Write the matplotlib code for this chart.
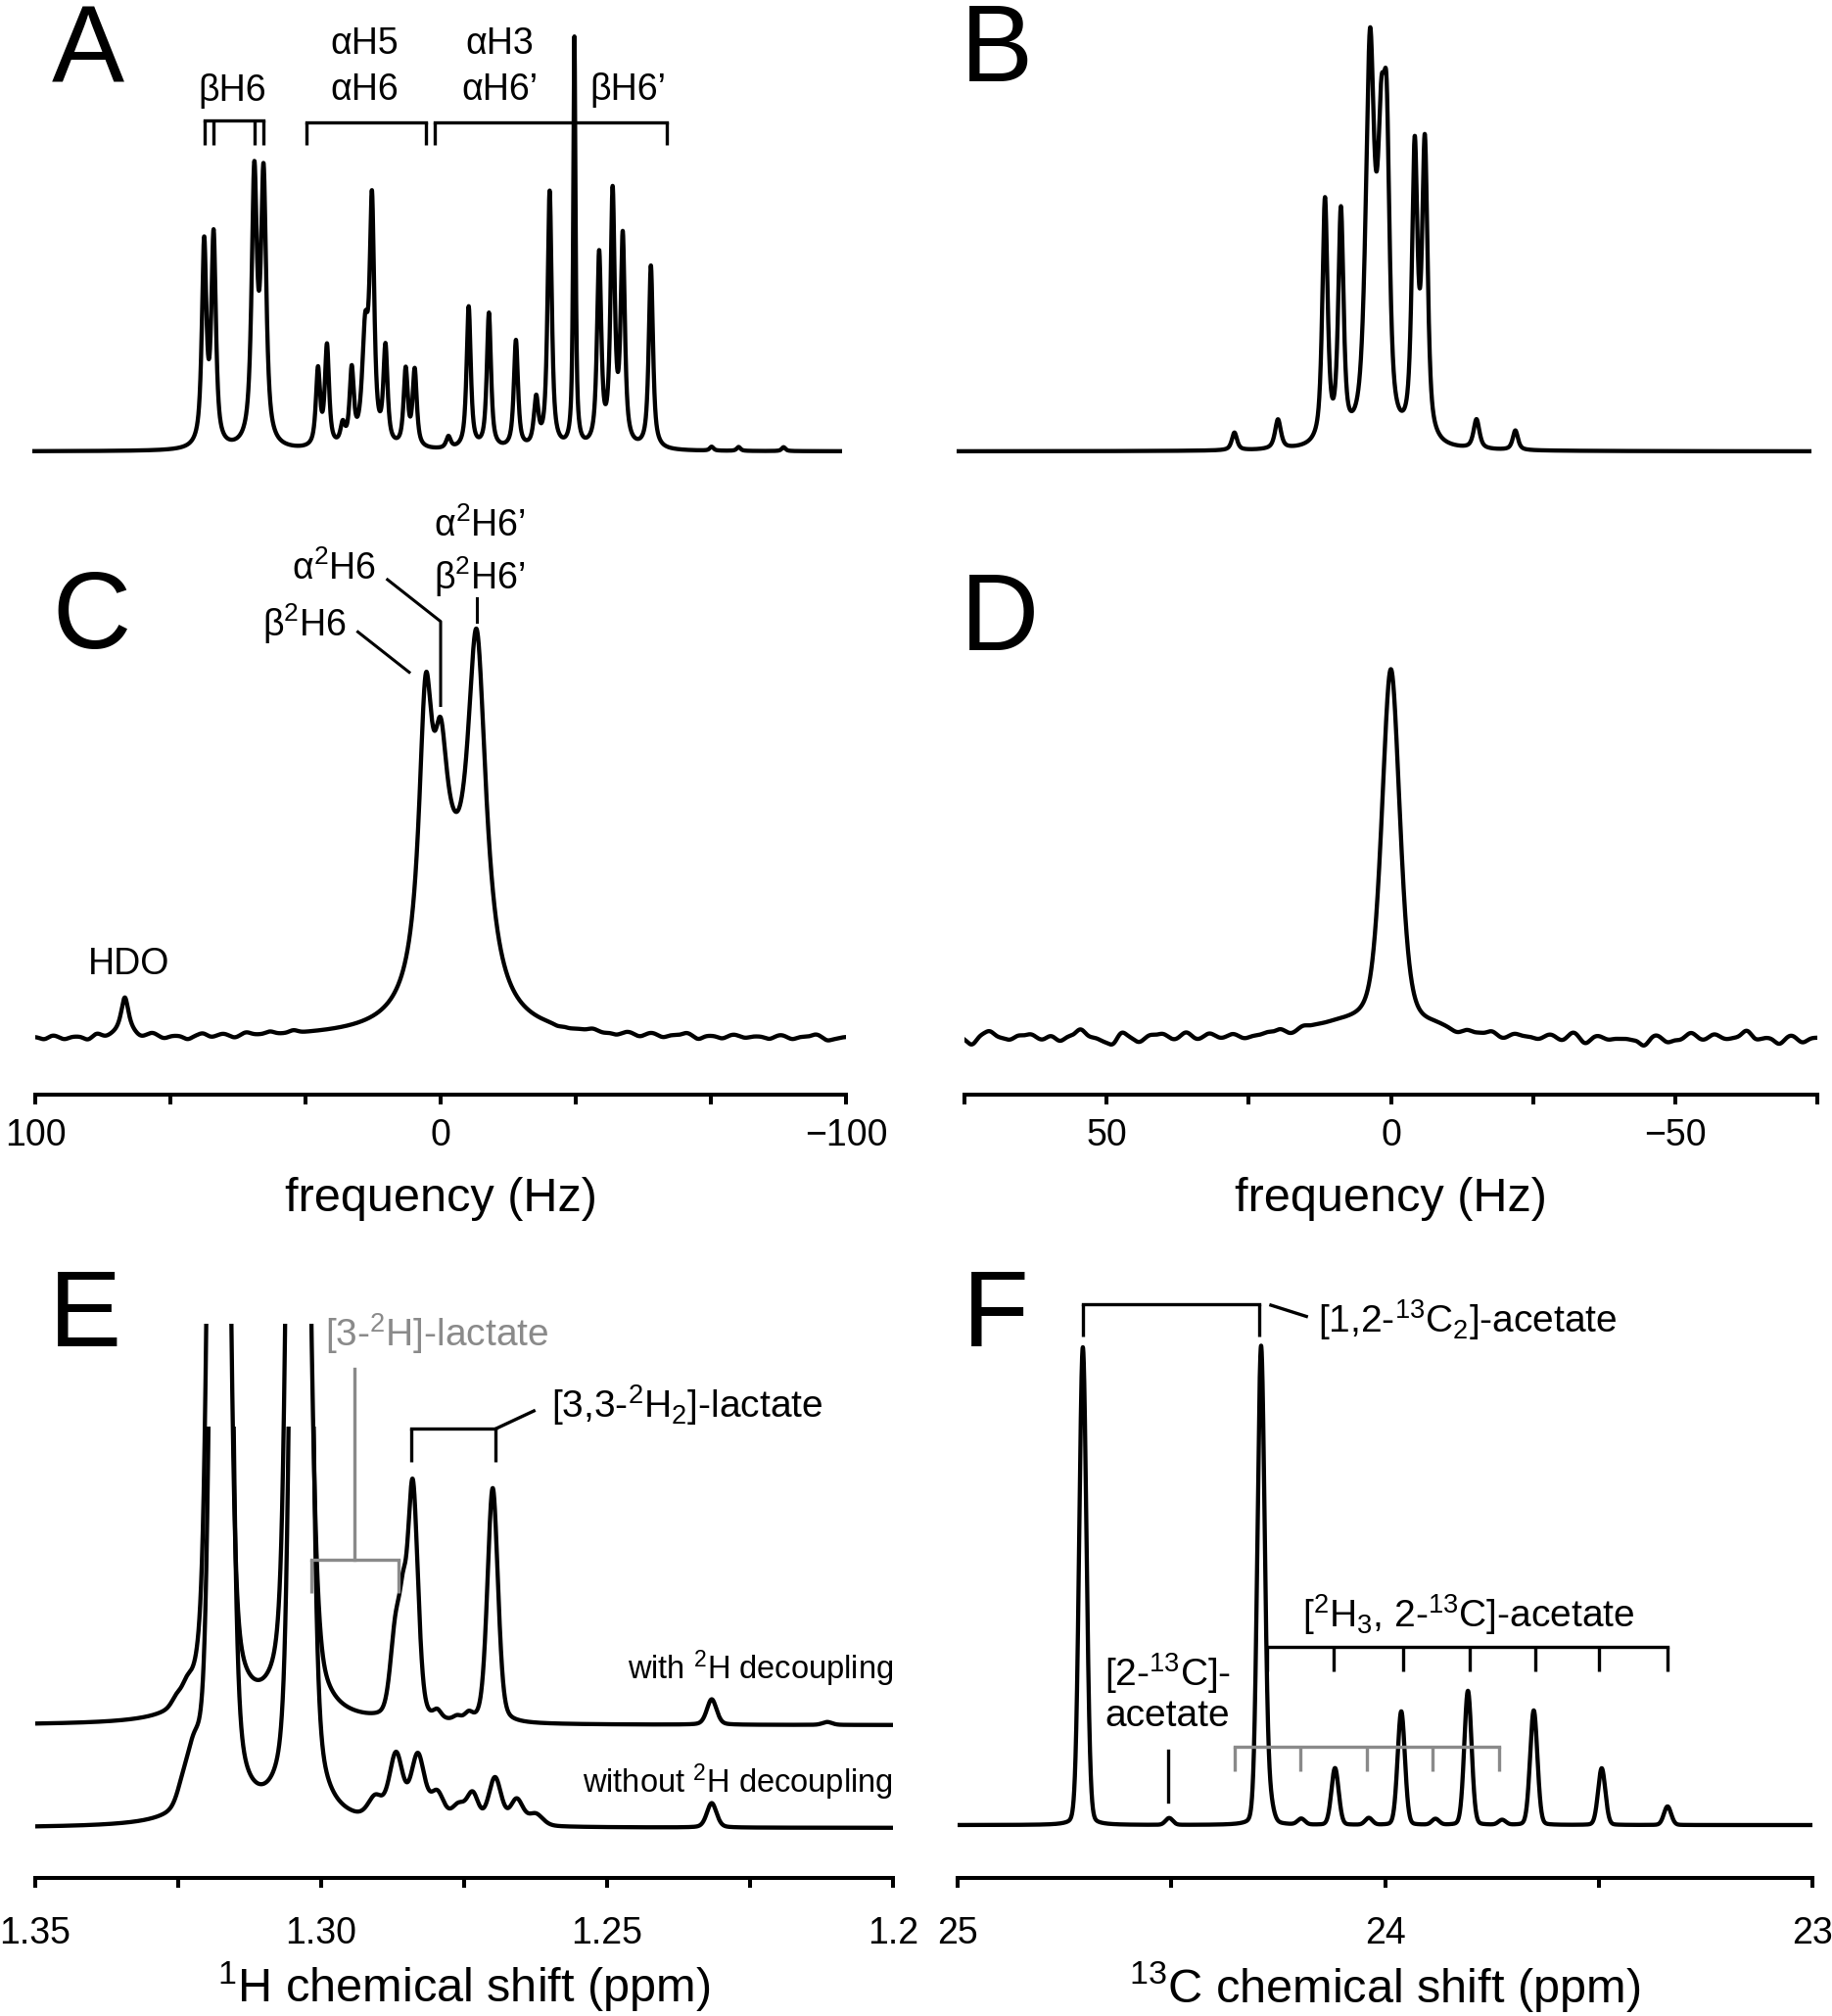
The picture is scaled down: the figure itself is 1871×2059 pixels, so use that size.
import numpy as np
import matplotlib.pyplot as plt
from matplotlib.patches import Rectangle

plt.rcParams['font.family'] = ['Liberation Sans', 'DejaVu Sans']
plt.rcParams['mathtext.fontset'] = 'custom'
plt.rcParams['mathtext.rm'] = 'Liberation Sans'
plt.rcParams['mathtext.it'] = 'Liberation Sans:italic'
plt.rcParams['mathtext.bf'] = 'Liberation Sans:bold'
plt.rcParams['mathtext.default'] = 'regular'

W, H = 1871, 2059
GRAY = '#8a8a8a'

# ---------------- data ----------------
# A: 1H spectrum, H6 region (ppm), intensity in a.u.
a_pos = [3.9036, 3.8994, 3.8813, 3.8772, 3.8530, 3.8490, 3.8420, 3.8380, 3.8320,
         3.8290, 3.8230, 3.8140, 3.8100, 3.7950, 3.7860, 3.7770, 3.7650, 3.7560,
         3.7500, 3.7390, 3.7280, 3.7220, 3.7175, 3.7050, 3.6780, 3.6660, 3.6460]
a_height = [205, 212, 272, 270, 78, 102, 20, 75, 110, 240, 98, 78, 78, 12, 145,
            138, 110, 48, 262, 418, 195, 255, 210, 187, 4, 4, 4]
a_width = [0.0012, 0.0012, 0.0014, 0.0014, 0.0011, 0.0011, 0.0012, 0.0011, 0.0016,
           0.0012, 0.0011, 0.0011, 0.0011, 0.0012, 0.0011, 0.0011, 0.0011, 0.0012,
           0.0011, 0.0006, 0.0011, 0.0011, 0.0011, 0.0011, 0.0010, 0.0010, 0.0010]

# B: multiplet (Hz)
b_pos = [38.5, 27.3, 15.2, 11.1, 3.6, 0.7, -0.7, -7.9, -10.5, -23.8, -33.8]
b_height = [18, 30, 248, 232, 395, 262, 245, 292, 298, 30, 20]
b_width = [0.8, 0.9, 0.8, 0.8, 1.3, 1.15, 0.9, 0.85, 0.85, 0.9, 0.8]

# C: 2H spectrum (Hz); last entry is the broad underlying component
c_pos = [77.9, 3.7, 0.0, -8.9, -2.0]
c_height = [40, 266, 136, 357, 110]
c_width = [1.2, 2.0, 2.0, 2.8, 6.0]
c_noise_pos = [97.8, 95.7, 92.8, 89.9, 87.0, 84.8, 82.6, 74.0, 71.1, 68.2, 65.3, 62.4,
               58.7, 56.6, 53.7, 50.8, 47.9, 45.0, 42.1, 39.2, 36.3, 33.4,
               -28.9, -31.8, -34.7, -37.5, -40.4, -43.3, -46.2, -49.1, -52.0, -54.9,
               -57.8, -60.7, -63.6, -66.5, -69.4, -72.3, -75.2, -78.1, -81.0, -83.9,
               -86.8, -89.7, -92.6, -95.5, -97.6]
c_noise_amp = [-2.4, 1.5, -2.4, 0, -3.4, 2.4, -1.5, -2.4, 2.4, -2.4, 0, -3.4,
               2.4, -1.5, 1.5, -2.4, 2.4, 0, 2.4, 0, 2.4, 0,
               -1.5, -1, 0, 2, -1, -2, 1.5, -2.4, 1.5, -2.4,
               0, 2.4, -3.4, 0, -2.4, 1.5, -1.5, 0, -2.4, 1.5,
               -2.4, 0, 2.4, -3.4, -1.5]

# D: 2H spectrum (Hz)
d_pos = [0.0, 9.0, -8.0]
d_height = [372, 12, 6]
d_width = [1.9, 7.0, 3.0]
d_noise_pos = [75.3, 73.7, 72.2, 70.6, 69.1, 67.0, 65.5, 63.4, 61.3, 59.8, 58.2, 56.7,
               54.6, 52.6, 50.5, 48.9, 47.4, 45.3, 44.3, 42.2, 40.2, 38.1, 36.0, 34.0,
               31.9, 29.8, 27.8, 25.7, 23.6, 21.6, 19.5, 17.5, 15.4, 13.3,
               -11.5, -13.5, -15.6, -17.7, -19.7, -21.8, -23.9, -25.9, -28.0, -30.1,
               -32.1, -34.2, -36.3, -38.3, -40.4, -42.5, -44.5, -46.6, -48.7, -50.7,
               -52.8, -54.9, -56.9, -59.0, -61.1, -62.6, -64.2, -66.2, -68.3, -70.4,
               -72.4, -74.5]
d_noise_amp = [0, -7.3, 2.4, 6.3, 0, -2.4, 2.4, 3.4, -2.4, 2.4, -3.9, 1.5,
               8.2, 0, -3.4, -7.3, 5.8, 0, -4.8, 2.4, 3.4, -2.4, 4.8, -2.4,
               3.4, -1.5, 2.4, -2.4, 0, 2.4, 4, -2, 3, 1,
               -2, 3, 1.5, 4, -2.4, 2.4, 0, -2.4, 2.4, -3.4,
               4.8, -6.3, 1.5, -2.4, -1.5, -2.4, -8.2, 2.4, -4.8, -2.4,
               4.8, -2.4, 3.4, -1.5, 0, 7.3, -2.4, 0, -6.3, 2.4,
               -4.8, 0]

# E: 1H lactate methyl region (ppm)
e_with_pos = [1.3253, 1.3235, 1.3179, 1.3041, 1.3017, 1.2869, 1.2857, 1.2840,
              1.2797, 1.2762, 1.2742, 1.2700, 1.2317, 1.2115]
e_with_height = [8, 12, 2000, 2000, 90, 92, 60, 240, 8, 4, 7, 240, 26, 3]
e_with_width = [0.0010, 0.0010, 0.00137, 0.00137, 0.0011, 0.0011, 0.0007, 0.00108,
                0.0008, 0.0008, 0.0008, 0.00108, 0.0010, 0.0010]
e_without_pos = [1.3243, 1.3223, 1.3175, 1.3035, 1.2905, 1.2869, 1.2831, 1.2797,
                 1.2760, 1.2735, 1.2696, 1.2658, 1.2625, 1.2317]
e_without_height = [15, 45, 2000, 2000, 22, 68, 68, 30, 18, 30, 48, 26, 12, 25]
e_without_width = [0.0012, 0.0015, 0.00137, 0.00137, 0.0015, 0.0014, 0.0014, 0.0014,
                   0.0014, 0.0012, 0.0013, 0.0013, 0.0015, 0.0010]

# F: 13C acetate methyl region (ppm)
f_pos = [24.707, 24.505, 24.290, 24.270, 24.196, 24.117, 24.038, 23.962, 23.882,
         23.806, 23.726, 23.652, 23.493, 23.339]
f_height = [488, 7, 488, 20, 6, 58, 7, 116, 6, 137, 5, 117, 58, 19]
f_width = 0.0100
f_septet = [24.275, 24.121, 23.958, 23.802, 23.649, 23.500, 23.339]
f_gray_ticks = [24.352, 24.199, 24.042, 23.888, 23.733]


def lineshape(x, pos, height, width, eta):
    width = np.broadcast_to(width, np.shape(pos))
    y = np.zeros_like(x)
    for p, h, w in zip(pos, height, width):
        u = (x - p) / w
        y += h * (eta / (1 + u ** 2) + (1 - eta) * np.exp(-np.log(2) * u ** 2))
    return y


def ripple(x, pos, amp, sigma):
    y = np.zeros_like(x)
    for p, a in zip(pos, amp):
        y += a * np.exp(-0.5 * ((x - p) / sigma) ** 2)
    return y


fig = plt.figure(figsize=(W / 100, H / 100), dpi=100)


def px_axes(x0, x1, y_top, y_bot, xlim, ylim, axis_on=True):
    ax = fig.add_axes([x0 / W, 1 - y_bot / H, (x1 - x0) / W, (y_bot - y_top) / H])
    ax.patch.set_visible(False)
    for s in ['left', 'right', 'top']:
        ax.spines[s].set_visible(False)
    ax.set_yticks([])
    ax.set_xlim(*xlim)
    ax.set_ylim(*ylim)
    if axis_on:
        ax.spines['bottom'].set_linewidth(2.9)
        ax.tick_params(axis='x', direction='out', length=7.5, width=2.9, labelsize=27)
    else:
        ax.spines['bottom'].set_visible(False)
        ax.set_xticks([])
    return ax


def letter(s, x, y):
    fig.text(x / W, 1 - y / H, s, fontsize=80, ha='left', va='baseline')


def bracket(ax, x_left, x_right, y_top, y_bot, ticks, color='black', lw=2.4):
    ax.plot([x_left, x_right], [y_top, y_top], color=color, lw=lw, solid_capstyle='projecting')
    for t in ticks:
        ax.plot([t, t], [y_top, y_bot], color=color, lw=lw, solid_capstyle='butt')


def xlabel_at(ax, text, y_px, y_top, y_bot):
    ax.set_xlabel(text, fontsize=35)
    ax.xaxis.set_label_coords(0.5, (y_bot - y_px) / (y_bot - y_top))
    ax.xaxis.label.set_va('baseline')


LW = 3.1

# ---------------- A ----------------
axA = px_axes(33, 860, 0, 500, (3.98, 3.62), (-39, 461), axis_on=False)
xa = np.linspace(3.98, 3.62, 6000)
axA.plot(xa, lineshape(xa, a_pos, a_height, a_width, 0.8), color='black', lw=LW)
bracket(axA, a_pos[0], a_pos[3], 338, 313, a_pos[:4])
bracket(axA, 3.858, 3.805, 336, 313, [3.858, 3.805])
bracket(axA, 3.801, 3.698, 336, 313, [3.801, 3.698])
fsA = 27
axA.text(3.8912, 358, 'βH6', fontsize=fsA, ha='center', va='baseline')
axA.text(3.8324, 406, 'αH5', fontsize=fsA, ha='center', va='baseline')
axA.text(3.8324, 359, 'αH6', fontsize=fsA, ha='center', va='baseline')
axA.text(3.7723, 406, 'αH3', fontsize=fsA, ha='center', va='baseline')
axA.text(3.7720, 359, 'αH6\u2019', fontsize=fsA, ha='center', va='baseline')
axA.text(3.7150, 359, 'βH6\u2019', fontsize=fsA, ha='center', va='baseline')
letter('A', 53, 83)

# ---------------- B ----------------
axB = px_axes(977, 1850, 0, 500, (110, -110), (-39, 461), axis_on=False)
xb = np.linspace(110, -110, 6000)
axB.plot(xb, lineshape(xb, b_pos, b_height, b_width, 0.7), color='black', lw=LW)
letter('B', 981, 83)

# ---------------- C ----------------
axC = px_axes(36, 864, 480, 1118, (100, -100), (-58, 580))
xc = np.linspace(100, -100, 6000)
yc = lineshape(xc, c_pos, c_height, c_width, 1.0) + ripple(xc, c_noise_pos, c_noise_amp, 1.0)
axC.plot(xc, yc, color='black', lw=LW)
axC.set_xticks([100, 200 / 3, 100 / 3, 0, -100 / 3, -200 / 3, -100])
axC.set_xticklabels(['100', '', '', '0', '', '', '\u2212100'])
axC.tick_params(axis='x', pad=10)
xlabel_at(axC, 'frequency (Hz)', 1237, 480, 1118)
fsC = 27
axC.text(76.8, 65, 'HDO', fontsize=fsC, ha='center', va='baseline')
axC.text(23.3, 410, 'β$^2$H6', fontsize=fsC, ha='right', va='baseline')
axC.plot([20.4, 7.75], [414.6, 373.4], color='black', lw=2.2)
axC.text(16.0, 468, 'α$^2$H6', fontsize=fsC, ha='right', va='baseline')
axC.plot([13.1, 0, 0], [468, 425.3, 339.5], color='black', lw=2.2)
axC.text(-9.7, 511.5, 'α$^2$H6\u2019', fontsize=fsC, ha='center', va='baseline')
axC.text(-9.7, 458, 'β$^2$H6\u2019', fontsize=fsC, ha='center', va='baseline')
axC.plot([-8.9, -8.9], [448.5, 425.3], color='black', lw=2.2)
letter('C', 53, 662)

# ---------------- D ----------------
axD = px_axes(985, 1856, 480, 1118, (75, -75), (-58, 580))
xd = np.linspace(75, -75, 6000)
yd = lineshape(xd, d_pos, d_height, d_width, 0.5) + ripple(xd, d_noise_pos, d_noise_amp, 0.8)
axD.plot(xd, yd, color='black', lw=LW)
axD.set_xticks([75, 50, 25, 0, -25, -50, -75])
axD.set_xticklabels(['', '50', '', '0', '', '\u221250', ''])
axD.tick_params(axis='x', pad=10)
xlabel_at(axD, 'frequency (Hz)', 1237, 480, 1118)
letter('D', 981, 664)

# ---------------- E ----------------
E_OFFSET = 105
E_CLIP = 410
axE = px_axes(36, 912, 1260, 1918, (1.35, 1.2), (-51, 607))
xe = np.linspace(1.35, 1.2, 9000)
ye_with = lineshape(xe, e_with_pos, e_with_height, e_with_width, 0.3) + E_OFFSET
ye_without = lineshape(xe, e_without_pos, e_without_height, e_without_width, 0.3)
for yy, top in [(ye_with, E_OFFSET + E_CLIP), (ye_without, E_CLIP)]:
    ln, = axE.plot(xe, yy, color='black', lw=LW)
    clip = Rectangle((1.2, -100), 0.15, top + 100, transform=axE.transData)
    ln.set_clip_path(clip)
axE.set_xticks([1.35, 1.325, 1.30, 1.275, 1.25, 1.225, 1.2])
axE.set_xticklabels(['1.35', '', '1.30', '', '1.25', '', '1.2'])
axE.tick_params(axis='x', pad=20.5)
xlabel_at(axE, '$^1$H chemical shift (ppm)', 2045, 1260, 1918)
fsE = 28
# [3-2H]-lactate (gray)
axE.plot([1.2941, 1.2941], [469, 273.7], color=GRAY, lw=2.4)
bracket(axE, 1.3017, 1.2865, 273.7, 240.3, [1.3017, 1.2865], color=GRAY)
axE.text(1.2994, 492, '[3-$^2$H]-lactate', fontsize=fsE, color=GRAY, ha='left', va='baseline')
# [3,3-2H2]-lactate
bracket(axE, 1.2842, 1.2695, 407.7, 373.7, [1.2842, 1.2695])
axE.plot([1.2695, 1.2628], [407.7, 426], color='black', lw=2.4)
axE.text(1.2597, 419, '[3,3-$^2$H$_2$]-lactate', fontsize=fsE, ha='left', va='baseline')
axE.text(1.2, 152, 'with $^2$H decoupling', fontsize=23.5, ha='right', va='baseline')
axE.text(1.2, 36, 'without $^2$H decoupling', fontsize=23.5, ha='right', va='baseline')
letter('E', 50, 1375)

# ---------------- F ----------------
axF = px_axes(978, 1851, 1260, 1918, (25, 23), (-54, 604))
xf = np.linspace(25, 23, 9000)
axF.plot(xf, lineshape(xf, f_pos, f_height, f_width, 0.1), color='black', lw=LW)
axF.set_xticks([25, 24.5, 24, 23.5, 23])
axF.set_xticklabels(['25', '', '24', '', '23'])
axF.tick_params(axis='x', pad=20.5)
xlabel_at(axF, '$^{13}$C chemical shift (ppm)', 2045, 1260, 1918)
fsF = 28
bracket(axF, 24.707, 24.294, 532, 499, [24.707, 24.294])
axF.plot([24.267, 24.184], [531, 519.5], color='black', lw=2.4)
axF.text(24.156, 503, '[1,2-$^{13}$C$_2$]-acetate', fontsize=fsF, ha='left', va='baseline')
bracket(axF, f_septet[0], f_septet[-1], 182, 157, f_septet)
axF.text(24.194, 202, '[$^2$H$_3$, 2-$^{13}$C]-acetate', fontsize=fsF, ha='left', va='baseline')
bracket(axF, f_gray_ticks[0], f_gray_ticks[-1], 80, 55, f_gray_ticks, color=GRAY)
axF.plot([24.507, 24.507], [76, 24], color='black', lw=2.4)
axF.text(24.509, 142, '[2-$^{13}$C]-', fontsize=fsF, ha='center', va='baseline')
axF.text(24.509, 101, 'acetate', fontsize=fsF, ha='center', va='baseline')
letter('F', 983, 1375)

fig.savefig('out.png', dpi=100)
